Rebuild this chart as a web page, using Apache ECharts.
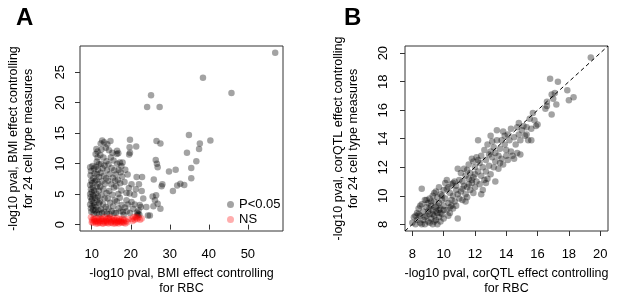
<!DOCTYPE html>
<html>
<head>
<meta charset="utf-8">
<script src="https://cdn.jsdelivr.net/npm/echarts@6/dist/echarts.min.js"></script>
<style>
  html, body { margin: 0; padding: 0; background: #fff; }
  #chart { width: 617px; height: 297px; }
</style>
</head>
<body>
<div id="chart"></div>
<script>
// panel A: BMI effect, significant points (grey)
const bmiSig = [
  [57.0,28.2],[38.5,24.1],[45.8,21.6],[25.2,21.2],[24.2,19.3],[27.4,19.3],
  [26.6,13.7],[27.6,13.3],[34.9,14.7],[40.4,13.8],[37.7,13.3],[37.5,12.4],[34.4,11.8],[36.8,10.4],[35.5,9.3],
  [26.4,10.6],[26.7,10.0],[26.9,9.4],[29.8,8.7],[31.5,9.0],[35.5,7.6],[25.9,7.4],[28.1,6.6],[27.9,6.3],
  [31.9,6.4],[32.7,6.7],[33.7,6.5],[30.8,5.5],[27.6,2.6],[24.9,1.5],[25.6,4.6],[26.2,4.0],[26.9,3.4],[25.8,3.0],[26.5,4.8],
  [9.6,9.4],[9.8,8.8],[10.2,9.6],[9.7,8.1],[10.4,7.6],[9.9,7.2],[10.1,6.8],[9.6,6.5],[10.3,6.1],[9.8,5.8],
  [10.0,5.3],[9.6,5.0],[10.4,4.8],[9.7,4.5],[10.1,4.2],[9.9,3.9],[10.5,3.6],[9.6,3.3],[10.2,3.0],[9.8,2.7],
  [10.4,2.4],[9.9,2.1],[10.6,9.2],[10.7,8.4],[10.8,7.1],[10.6,5.6],[10.9,4.4],[10.7,3.2],[10.9,2.3],[10.5,1.8],
  [11.2,12.4],[11.0,11.6],[11.5,11.0],[11.3,10.3],[11.8,9.9],[11.1,9.5],[11.6,9.0],[11.4,8.3],[11.9,7.8],[11.2,7.3],
  [11.7,6.7],[11.3,6.2],[11.8,5.6],[11.1,5.1],[11.6,4.6],[11.4,4.0],[11.9,3.5],[11.2,2.9],[11.7,2.4],[11.3,1.9],
  [11.9,1.7],[11.5,12.0],
  [12.7,13.8],[12.3,13.3],[13.2,13.5],[12.5,12.3],[13.6,12.6],[12.2,11.4],[13.0,11.0],[13.8,10.4],[12.4,10.0],[13.3,9.7],
  [12.8,9.2],[13.9,8.9],[12.3,8.5],[13.1,8.0],[13.7,7.6],[12.6,7.1],[13.4,6.7],[12.2,6.2],[13.0,5.8],[13.8,5.2],
  [12.5,4.8],[13.3,4.3],[12.1,3.8],[12.9,3.3],[13.6,2.9],[12.4,2.5],[13.2,2.1],[13.9,1.8],[12.7,1.9],[14.0,13.2],
  [14.8,13.7],[14.4,12.2],[15.3,11.8],[14.9,11.0],[15.6,10.5],[14.3,9.9],[15.1,9.3],[15.8,8.9],[14.6,8.3],[15.4,7.7],
  [14.2,7.2],[15.0,6.6],[15.7,6.1],[14.5,5.5],[15.3,4.9],[14.1,4.3],[15.9,4.0],[14.7,3.6],[15.5,3.0],[14.3,2.6],
  [15.1,2.2],[15.8,1.9],[14.6,1.7],[16.0,7.2],
  [16.5,12.1],[16.4,11.6],[16.8,11.7],[17.2,10.2],[16.5,10.0],[17.6,9.6],[16.9,9.0],[17.4,8.6],[16.2,8.2],[17.8,7.9],
  [16.7,7.3],[17.3,6.8],[16.3,6.3],[17.6,5.6],[16.8,5.0],[17.2,4.4],[16.4,3.8],[17.7,3.2],[16.9,2.7],[17.4,2.2],
  [16.2,1.9],[18.0,2.1],[17.9,10.2],
  [19.8,13.9],[19.7,12.7],[19.8,11.8],[19.6,11.5],[18.6,9.0],[19.2,8.2],[18.4,7.0],[19.5,6.0],[18.9,5.2],[19.7,5.1],
  [18.9,4.0],[19.3,3.3],[18.5,2.8],[19.0,2.2],[19.8,1.9],[18.2,1.6],
  [21.4,12.8],[21.5,7.8],[22.9,7.8],[20.2,6.6],[22.1,6.6],[21.3,5.8],[22.8,5.5],[20.9,4.9],[20.2,3.7],[21.0,3.3],
  [22.3,3.2],[21.9,1.8],[21.6,2.0],[22.2,1.6],[22.0,2.3],[21.7,1.5],[20.6,2.6],[23.2,4.3],[24.0,2.9],[24.4,1.5],[22.6,2.9]
];

// panel A: not significant points (red)
const bmiNS = [
  [9.8,1.2],[10.1,0.7],[10.3,0.3],[10.5,1.0],[10.7,0.5],[10.9,0.9],[11.1,0.2],[11.3,0.6],[11.5,1.1],[11.7,0.4],
  [11.9,0.8],[12.1,0.3],[12.3,1.0],[12.5,0.6],[12.7,0.2],[12.9,0.9],[13.1,0.5],[13.3,1.2],[13.5,0.3],[13.7,0.8],
  [13.9,0.5],[14.1,1.0],[14.3,0.2],[14.5,0.7],[14.7,1.2],[14.9,0.4],[15.1,0.9],[15.3,0.6],[15.5,0.2],[15.7,1.0],
  [15.9,0.5],[16.1,0.8],[16.3,0.3],[16.5,1.1],[16.7,0.6],[16.9,0.2],[17.1,0.9],[17.3,0.4],[17.5,0.7],[17.7,0.3],
  [17.9,1.0],[18.1,0.5],[18.3,0.8],[18.6,0.2],[18.8,0.6],[19.1,0.4],[19.4,0.9],
  [10.0,0.4],[10.6,0.8],[11.0,0.5],[11.6,0.2],[12.0,0.6],[12.6,0.9],[13.0,0.2],[13.6,0.6],[14.0,0.3],
  [14.4,1.0],[15.0,0.3],[15.6,0.7],[16.0,0.2],[16.6,0.4],[17.0,0.6],[17.6,0.5],[18.2,0.3],
  [20.3,0.9],[20.7,1.2],[21.0,0.8],[21.4,1.1],[21.7,0.9],[22.0,1.2],[22.4,0.8],[22.8,1.0],[21.2,1.3],[20.5,0.6]
];

// panel B: corQTL effect
const corQTL = [
  [8.0,8.1],[8.1,8.5],[8.2,8.0],[8.3,8.8],[8.3,8.3],[8.4,9.1],[8.5,8.6],[8.5,8.1],[8.6,10.5],[8.6,9.4],
  [8.7,8.9],[8.7,8.3],[8.8,9.7],[8.8,8.0],[8.9,9.2],[8.9,8.6],[9.0,9.5],[9.0,8.2],[8.4,8.7],[8.6,8.0],
  [8.8,8.5],[9.0,8.9],[8.2,8.6],[8.9,9.7],[8.5,9.3],
  [9.1,9.8],[9.1,8.7],[9.1,8.1],[9.2,9.3],[9.2,8.4],[9.3,10.0],[9.3,9.0],[9.3,8.0],[9.4,9.6],[9.4,8.6],
  [9.5,10.3],[9.5,9.2],[9.5,8.3],[9.6,9.9],[9.6,8.8],[9.6,8.0],[9.7,9.5],[9.7,8.5],[9.8,10.1],[9.8,9.1],
  [9.8,8.2],[9.9,9.7],[9.9,8.7],[10.0,10.4],[10.0,9.3],[10.0,8.4],[9.2,9.6],[9.4,10.2],[9.5,8.9],[9.7,10.6],
  [9.9,10.0],[9.3,8.7],[9.6,9.3],[9.8,8.8],[9.1,9.1],[9.4,8.2],[9.7,9.0],[10.0,9.0],
  [10.1,10.9],[10.1,9.8],[10.2,9.0],[10.2,10.5],[10.3,9.5],[10.3,8.6],[10.4,10.2],[10.4,9.2],[10.5,10.8],[10.5,9.7],
  [10.6,10.0],[10.6,9.1],[10.7,11.0],[10.7,9.6],[10.8,10.4],[10.8,9.3],[10.9,11.9],[10.9,8.4],[10.9,10.1],[11.0,11.1],
  [11.0,9.8],[10.2,11.1],[10.4,8.8],[10.6,10.9],[10.8,10.7],[10.5,9.3],[10.3,10.6],
  [11.1,11.6],[11.1,10.3],[11.2,11.0],[11.2,9.7],[11.3,10.7],[11.3,11.9],[11.4,10.1],[11.4,11.4],[11.5,10.6],[11.5,9.9],
  [11.6,11.2],[11.6,12.2],[11.7,10.4],[11.7,11.6],[11.8,10.9],[11.8,12.6],[11.9,11.3],[11.9,10.2],[12.0,12.0],[12.0,11.5],
  [12.0,10.6],[11.2,10.5],[11.5,11.8],[11.8,11.1],[11.4,9.6],[11.6,10.8],[11.9,12.4],
  [12.1,11.0],[12.1,12.7],[12.2,11.7],[12.2,13.9],[12.3,10.8],[12.3,12.3],[12.4,11.4],[12.4,12.8],[12.5,10.4],[12.5,12.0],
  [12.6,11.1],[12.6,13.2],[12.7,12.5],[12.7,11.7],[12.8,13.6],[12.8,11.2],[12.9,12.9],[12.9,12.1],[13.0,14.2],[13.0,11.5],
  [13.0,13.1],[12.4,10.1],[12.7,10.9],[12.2,12.5],
  [13.1,12.7],[13.1,13.8],[13.2,12.0],[13.2,13.4],[13.3,11.0],[13.3,12.4],[13.4,13.9],[13.4,14.6],[13.5,12.8],[13.5,11.9],
  [13.6,13.3],[13.7,12.6],[13.7,13.9],[13.8,12.2],[13.9,13.6],[13.9,14.2],[14.0,12.8],[14.0,13.2],[13.6,12.3],[13.8,14.5],[13.3,13.0],
  [14.1,14.3],[14.1,12.5],[14.2,13.9],[14.3,14.7],[14.3,13.1],[14.4,12.8],[14.5,14.1],[14.6,13.6],[14.7,14.8],[14.7,13.0],
  [14.8,15.1],[14.8,14.3],[14.9,13.9],[15.0,14.6],[14.5,12.6],[14.9,12.9],
  [15.1,14.9],[15.2,14.2],[15.3,14.8],[15.4,13.9],[15.5,15.4],[15.6,14.7],[15.7,15.8],[15.8,15.3],[15.9,14.9],[16.0,15.0],
  [15.3,14.3],[15.6,13.9],
  [16.5,16.1],[16.6,16.3],[16.9,15.7],[16.8,18.2],[16.9,17.1],[17.0,16.8],[17.1,17.2],[17.3,18.0],[17.2,16.4],[17.9,17.4],
  [18.0,16.7],[18.3,16.9],[19.4,19.7],[16.6,16.6]
];

const ticksAx = [10, 20, 30, 40, 50];
const ticksAy = [0, 5, 10, 15, 20, 25];
const ticksB = [8, 10, 12, 14, 16, 18, 20];
const rangeAx = [7, 59];
const rangeAy = [-1.05, 29.3];
const rangeB = [7.53, 20.5];
const diagonal = [[rangeB[0], rangeB[0]], [rangeB[1], rangeB[1]]];

const font = 'Liberation Sans, Arial, sans-serif';

const makeAxis = (gridIndex, range, ticks, isY, margin, name, nameGap) => ({
  type: 'value',
  gridIndex,
  min: range[0],
  max: range[1],
  splitLine: { show: false },
  axisLine: { show: false },
  axisTick: { show: true, length: 5, customValues: ticks, lineStyle: { color: '#333' } },
  axisLabel: {
    customValues: ticks,
    color: '#000',
    fontSize: 13,
    fontFamily: font,
    margin,
    rotate: isY ? 90 : 0
  },
  name,
  nameLocation: 'middle',
  nameGap,
  nameTextStyle: { color: '#000', fontSize: 12.5, fontFamily: font, lineHeight: 15 }
})

const chart = echarts.init(document.getElementById('chart'))

chart.setOption({
  animation: false,
  title: [
    { text: 'A', left: 11, top: 1, textStyle: { fontSize: 24, fontWeight: 'bold', fontFamily: font, color: '#000' } },
    { text: 'B', left: 339, top: 1, textStyle: { fontSize: 24, fontWeight: 'bold', fontFamily: font, color: '#000' } }
  ],
  grid: [
    { left: 80, top: 46, width: 203, height: 185, show: true, borderColor: '#333', borderWidth: 1, outerBoundsMode: 'none' },
    { left: 405, top: 46, width: 203, height: 185, show: true, borderColor: '#333', borderWidth: 1, outerBoundsMode: 'none' }
  ],
  xAxis: [
    makeAxis(0, rangeAx, ticksAx, false, 17, '-log10 pval, BMI effect controlling\nfor RBC', 30),
    makeAxis(1, rangeB, ticksB, false, 17, '-log10 pval, corQTL effect controlling\nfor RBC', 30)
  ],
  yAxis: [
    makeAxis(0, rangeAy, ticksAy, true, 13, '-log10 pval, BMI effect controlling\nfor 24 cell type measures', 44),
    makeAxis(1, rangeB, ticksB, true, 15, '-log10 pval, corQTL effect controlling\nfor 24 cell type measures', 44)
  ],
  legend: {
    orient: 'vertical',
    left: 222,
    top: 193,
    itemWidth: 7,
    itemHeight: 7,
    itemGap: 2,
    icon: 'circle',
    textStyle: { color: '#000', fontSize: 13, fontFamily: font },
    data: ['P<0.05', 'NS']
  },
  series: [
    {
      name: 'P<0.05',
      type: 'scatter',
      xAxisIndex: 0,
      yAxisIndex: 0,
      symbolSize: 6.5,
      itemStyle: { color: 'rgba(0,0,0,0.45)' },
      data: bmiSig
    },
    {
      name: 'NS',
      type: 'scatter',
      xAxisIndex: 0,
      yAxisIndex: 0,
      symbolSize: 6.5,
      itemStyle: { color: 'rgba(255,0,0,0.4)' },
      data: bmiNS
    },
    {
      name: 'corQTL',
      type: 'scatter',
      xAxisIndex: 1,
      yAxisIndex: 1,
      symbolSize: 6.5,
      itemStyle: { color: 'rgba(0,0,0,0.45)' },
      data: corQTL
    },
    {
      name: 'diagonal',
      type: 'line',
      xAxisIndex: 1,
      yAxisIndex: 1,
      symbol: 'none',
      silent: true,
      lineStyle: { color: '#000', width: 1, type: [4, 3] },
      data: diagonal
    }
  ]
})
</script>
</body>
</html>
